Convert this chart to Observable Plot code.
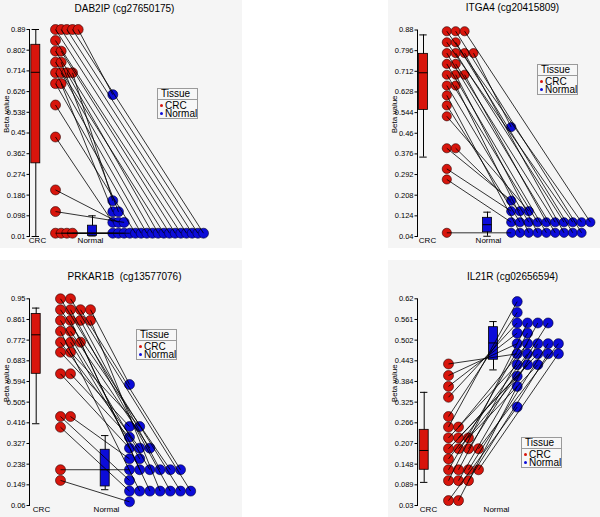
<!DOCTYPE html>
<html>
<head>
<meta charset="utf-8">
<script src="https://cdn.jsdelivr.net/npm/d3@7"></script>
<script src="https://cdn.jsdelivr.net/npm/@observablehq/plot@0.6"></script>
<style>
  body { margin: 0; background: #fff; }
  #wrap { position: relative; width: 600px; height: 517px; overflow: hidden; background: #fff;
          font-family: "Liberation Sans", Arial, sans-serif; }
  .panel { position: absolute; overflow: hidden; }
  .panel svg { max-width: none !important; display: block; }
  .legend { position: absolute; width: 39px; border: 1px solid #9a9a9a; font-size: 10px; color: #000;
            background: #f7f7f7; }
  .legend .lt { height: 10px; line-height: 10px; padding-left: 3px; border-bottom: 1px solid #9a9a9a; }
  .legend .rows { padding-top: 2px; }
  .legend .lr { position: relative; height: 7.8px; line-height: 7.8px; padding-left: 7px; white-space: nowrap; }
  .legend .ld { position: absolute; left: 2px; top: 2.4px; width: 3px; height: 3px; border-radius: 50%; }
</style>
</head>
<body>
<div id="wrap"></div>
<script>
// ---------------- DATA ----------------
const groups = ["CRC", "Normal"];
const legendTitle = "Tissue";
const axisTitle = "Beta value";

// DAB2IP (cg27650175): paired samples, CRC value[i] paired with Normal value[i]
const dab2ipTitle = "DAB2IP (cg27650175)";
const dab2ipTicks = ["0.01","0.098","0.186","0.274","0.362","0.45","0.538","0.626","0.714","0.802","0.89"];
const dab2ipCRC    = [0.024,0.024,0.024,0.024,0.569,0.660,0.706,0.706,0.706,0.751,0.798,0.798,0.843,0.89,0.89,0.89,0.89,0.89,0.706,0.660,0.751,0.433,0.208,0.116];
const dab2ipNormal = [0.024,0.024,0.024,0.024,0.024,0.024,0.024,0.024,0.024,0.024,0.024,0.024,0.024,0.024,0.024,0.024,0.024,0.613,0.162,0.115,0.115,0.07,0.07,0.07];
// box stats: [whisker low, q1, median, q3, whisker high]
const dab2ipBoxCRC    = [0.01, 0.321, 0.708, 0.825, 0.89];
const dab2ipBoxNormal = [0.012, 0.012, 0.022, 0.056, 0.098];

// ITGA4 (cg20415809)
const itga4Title = "ITGA4 (cg20415809)";
const itga4Ticks = ["0.04","0.124","0.208","0.292","0.376","0.46","0.544","0.628","0.712","0.796","0.88"];
const itga4CRC    = [0.055,0.272,0.573,0.614,0.654,0.654,0.698,0.698,0.698,0.742,0.742,0.786,0.786,0.786,0.830,0.830,0.875,0.875,0.875,0.315,0.399,0.399,0.529,0.786];
const itga4Normal = [0.055,0.098,0.098,0.055,0.098,0.055,0.098,0.055,0.098,0.055,0.098,0.055,0.098,0.055,0.098,0.055,0.098,0.055,0.098,0.143,0.186,0.143,0.143,0.485];
const itga4BoxCRC    = [0.363, 0.555, 0.706, 0.783, 0.86];
const itga4BoxNormal = [0.041, 0.057, 0.088, 0.116, 0.139];

// PRKAR1B (cg13577076)
const prkar1bTitle = "PRKAR1B  (cg13577076)";
const prkar1bTicks = ["0.06","0.149","0.238","0.327","0.416","0.505","0.594","0.683","0.772","0.861","0.95"];
const prkar1bCRC    = [0.214,0.168,0.397,0.443,0.443,0.627,0.627,0.720,0.720,0.763,0.763,0.763,0.810,0.810,0.857,0.857,0.857,0.857,0.903,0.903,0.903,0.95,0.95,0.903];
const prkar1bNormal = [0.214,0.076,0.122,0.168,0.261,0.307,0.354,0.400,0.400,0.307,0.261,0.214,0.122,0.307,0.214,0.122,0.214,0.122,0.214,0.122,0.214,0.122,0.122,0.581];
const prkar1bBoxCRC    = [0.412, 0.627, 0.795, 0.885, 0.910];
const prkar1bBoxNormal = [0.128, 0.142, 0.214, 0.300, 0.361];

// IL21R (cg02656594)
const il21rTitle = "IL21R (cg02656594)";
const il21rTicks = ["0.03","0.089","0.148","0.207","0.266","0.325","0.384","0.443","0.502","0.561","0.62"];
const il21rCRC    = [0.434,0.401,0.370,0.339,0.284,0.254,0.223,0.192,0.163,0.132,0.101,0.044,0.254,0.223,0.192,0.132,0.101,0.044,0.223,0.192,0.132,0.101,0.192,0.132];
const il21rNormal = [0.463,0.492,0.522,0.551,0.581,0.612,0.432,0.399,0.463,0.522,0.551,0.311,0.492,0.463,0.432,0.551,0.492,0.370,0.432,0.551,0.492,0.463,0.492,0.463];
const il21rBoxCRC    = [0.096, 0.132, 0.187, 0.246, 0.353];
const il21rBoxNormal = [0.417, 0.446, 0.494, 0.539, 0.555];

// ---------------- STYLE / LAYOUT ----------------
const RED = "#d8150c", BLUE = "#0c0cd9", BG = "#f5f5f5";
const FONT = "'Liberation Sans', Arial, sans-serif";

const panels = [
  {title: dab2ipTitle, ticks: dab2ipTicks, crc: dab2ipCRC, normal: dab2ipNormal, box: [dab2ipBoxCRC, dab2ipBoxNormal],
   pos: {left: 0, top: 0, width: 242, height: 248, mTop: 29, mBottom: 12, titleDy: -21},
   lay: {crcBox: 6.3, crcDots: 26, stepC: 5.67, normBox: 63, normDots: 83.3, stepN: 5.67, r: 5, labels: [8, 61]},
   legend: {left: 157, top: 88}},
  {title: itga4Title, ticks: itga4Ticks, crc: itga4CRC, normal: itga4Normal, box: [itga4BoxCRC, itga4BoxNormal],
   pos: {left: 388, top: 0, width: 242, height: 248, mTop: 29.5, mBottom: 12, titleDy: -22},
   lay: {crcBox: 6, crcDots: 29.3, stepC: 8.9, normBox: 70, normDots: 93.7, stepN: 8.8, r: 4.6, labels: [10, 71]},
   legend: {left: 537, top: 64}},
  {title: prkar1bTitle, ticks: prkar1bTicks, crc: prkar1bCRC, normal: prkar1bNormal, box: [prkar1bBoxCRC, prkar1bBoxNormal],
   pos: {left: 0, top: 260, width: 242, height: 257, mTop: 38.3, mBottom: 12, titleDy: -21.6},
   lay: {crcBox: 6.7, crcDots: 31, stepC: 10, normBox: 75.7, normDots: 100, stepN: 10.2, r: 5, labels: [12, 77]},
   legend: {left: 136, top: 329}},
  {title: il21rTitle, ticks: il21rTicks, crc: il21rCRC, normal: il21rNormal, box: [il21rBoxCRC, il21rBoxNormal],
   pos: {left: 388, top: 260, width: 242, height: 257, mTop: 38.3, mBottom: 12, titleDy: -21.6},
   lay: {crcBox: 6.7, crcDots: 31, stepC: 10, normBox: 76, normDots: 99.7, stepN: 10.3, r: 5, labels: [11, 79]},
   legend: {left: 521, top: 437}}
];

const AXIS = 29, BOXW = 4.5, CAPW = 3.7;

function stackIndex(arr) {
  const seen = new Map();
  return arr.map(v => { const k = seen.get(v) || 0; seen.set(v, k + 1); return k; });
}

const wrap = document.getElementById("wrap");

for (const p of panels) {
  const {pos, lay} = p;
  const tickVals = p.ticks.map(Number);
  const ci = stackIndex(p.crc), ni = stackIndex(p.normal);
  const pairs = p.crc.map((c, i) => ({
    c, n: p.normal[i],
    xc: lay.crcDots + ci[i] * lay.stepC,
    xn: lay.normDots + ni[i] * lay.stepN
  }));
  const boxes = [
    {x: lay.crcBox, s: p.box[0], fill: RED},
    {x: lay.normBox, s: p.box[1], fill: BLUE}
  ];
  const frameCenter = (AXIS + pos.width) / 2;

  const svg = Plot.plot({
    width: pos.width, height: pos.height,
    marginLeft: AXIS, marginRight: 0, marginTop: pos.mTop, marginBottom: pos.mBottom,
    x: {domain: [0, pos.width - AXIS], axis: null},
    y: {domain: [tickVals[0], tickVals[tickVals.length - 1]], axis: null},
    style: {background: BG, fontFamily: FONT, color: "#000", overflow: "visible", maxWidth: "none"},
    marks: [
      Plot.frame({anchor: "left", stroke: "#000"}),
      Plot.axisY({ticks: tickVals, tickFormat: d => p.ticks[tickVals.indexOf(d)], tickSize: 2.5, tickPadding: 1.5,
                  fontSize: 7.5, label: null, stroke: "#000"}),
      Plot.text([axisTitle], {frameAnchor: "left", dx: -23, rotate: -90, fontSize: 8}),
      Plot.text([p.title], {frameAnchor: "top", dx: 124 - frameCenter, dy: pos.titleDy, fontSize: 10, lineAnchor: "middle"}),
      Plot.text(groups, {x: (d, i) => lay.labels[i], frameAnchor: "bottom", lineAnchor: "top", dy: 0.5, fontSize: 8}),
      // whiskers
      Plot.ruleX(boxes, {x: "x", y1: d => d.s[0], y2: d => d.s[4], stroke: "#000", strokeWidth: 1}),
      Plot.ruleY(boxes, {y: d => d.s[0], x1: d => d.x - CAPW, x2: d => d.x + CAPW, stroke: "#000", strokeWidth: 1}),
      Plot.ruleY(boxes, {y: d => d.s[4], x1: d => d.x - CAPW, x2: d => d.x + CAPW, stroke: "#000", strokeWidth: 1}),
      // boxes
      Plot.rect(boxes, {x1: d => d.x - BOXW, x2: d => d.x + BOXW, y1: d => d.s[1], y2: d => d.s[3],
                        fill: "fill", stroke: "#000", strokeWidth: 0.8}),
      Plot.ruleY(boxes, {y: d => d.s[2], x1: d => d.x - BOXW, x2: d => d.x + BOXW, stroke: "#000", strokeWidth: 1}),
      // dots
      Plot.dot(pairs, {x: "xc", y: "c", r: lay.r, fill: RED, stroke: "#2a0000", strokeWidth: 0.6}),
      Plot.dot(pairs, {x: "xn", y: "n", r: lay.r, fill: BLUE, stroke: "#00002a", strokeWidth: 0.6}),
      // pairing lines
      Plot.link(pairs, {x1: "xc", y1: "c", x2: "xn", y2: "n", stroke: "#000", strokeWidth: 0.8})
    ]
  });
  const holder = document.createElement("div");
  holder.className = "panel";
  holder.style.left = pos.left + "px";
  holder.style.top = pos.top + "px";
  holder.style.width = pos.width + "px";
  holder.style.height = pos.height + "px";
  holder.appendChild(svg);
  wrap.appendChild(holder);

  // legend
  const lg = document.createElement("div");
  lg.className = "legend";
  lg.style.left = p.legend.left + "px";
  lg.style.top = p.legend.top + "px";
  const colors = [RED, BLUE];
  lg.innerHTML = `<div class="lt">${legendTitle}</div><div class="rows">` +
    groups.map((g, i) => `<div class="lr"><span class="ld" style="background:${colors[i]}"></span>${g}</div>`).join("") +
    `</div>`;
  wrap.appendChild(lg);
}
</script>
</body>
</html>
